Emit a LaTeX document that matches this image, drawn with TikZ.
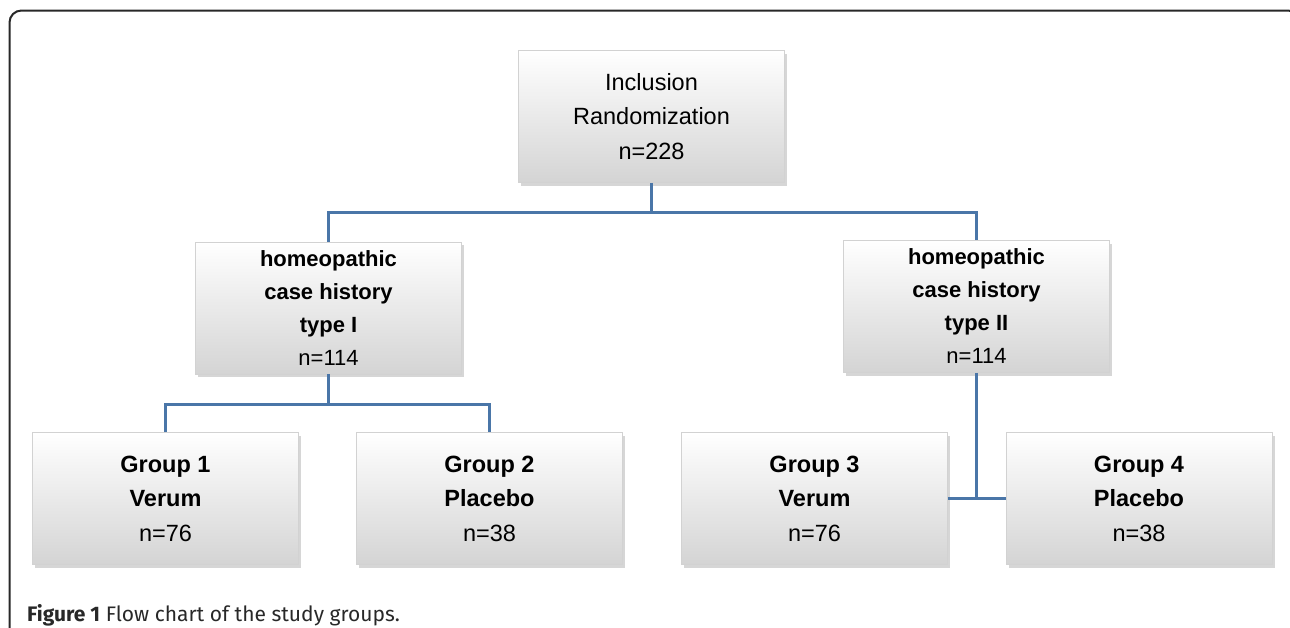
\documentclass[tikz,border=0pt]{standalone}
\usepackage{fontspec}
\setmainfont{Liberation Sans}
\newfontfamily\capfont{Fira Sans}
\usetikzlibrary{shadows}
\definecolor{linkblue}{RGB}{74,118,168}
\definecolor{boxbot}{RGB}{212,212,212}
\definecolor{framecol}{RGB}{40,40,40}
\tikzset{
  fbox/.style={rectangle, minimum width=266pt, minimum height=132pt, inner sep=0pt,
    top color=white, bottom color=boxbot, draw=gray!35, line width=0.6pt,
    align=center, font=\fontsize{23.5}{34.5}\selectfont,
    drop shadow={shadow xshift=2.5pt, shadow yshift=-3pt, opacity=0.4, fill=gray!80}},
  hbox/.style={fbox, font=\fontsize{22}{33}\selectfont},
  conn/.style={draw=linkblue, line width=3pt},
}
\begin{document}
\begin{tikzpicture}[x=1pt,y=-1pt]
\useasboundingbox (0,0) rectangle (1290,627);
\fill[white] (0,0) rectangle (1290,627);
\draw[framecol, line width=2pt, rounded corners=12pt] (9.5,10.5) rectangle (1300,650);

\node[fbox] (top) at (651.5,116.5) {Inclusion\\Randomization\\n=228};
\node[hbox] (h1) at (328.5,308) {\textbf{homeopathic}\\\textbf{case history}\\\textbf{type I}\\n=114};
\node[hbox] (h2) at (976.5,306.5) {\textbf{homeopathic}\\\textbf{case history}\\\textbf{type II}\\n=114};
\node[fbox] (g1) at (165.5,498.5) {\textbf{Group 1}\\\textbf{Verum}\\n=76};
\node[fbox] (g2) at (489.5,498.5) {\textbf{Group 2}\\\textbf{Placebo}\\n=38};
\node[fbox] (g3) at (814.5,498.5) {\textbf{Group 3}\\\textbf{Verum}\\n=76};
\node[fbox] (g4) at (1139,498.5) {\textbf{Group 4}\\\textbf{Placebo}\\n=38};

\coordinate (j1) at (top.south |- 0,212);
\coordinate (j2) at (h1.south |- 0,404);
\coordinate (j3) at (h2.south |- g3.east);
\draw[conn] (top.south) -- (j1);
\draw[conn] (h1.north) |- (j1) -| (h2.north);
\draw[conn] (h1.south) -- (j2);
\draw[conn] (g1.north) |- (j2) -| (g2.north);
\draw[conn] (h2.south) -- (j3);
\draw[conn] (g3.east) -- (g4.west);

\node[anchor=base west, inner sep=0pt, text=framecol, font=\capfont\fontsize{21}{23}\selectfont] (cap) at (27,621)
  {\textbf{Figure 1} Flow chart of the study groups.};
\end{tikzpicture}
\end{document}
